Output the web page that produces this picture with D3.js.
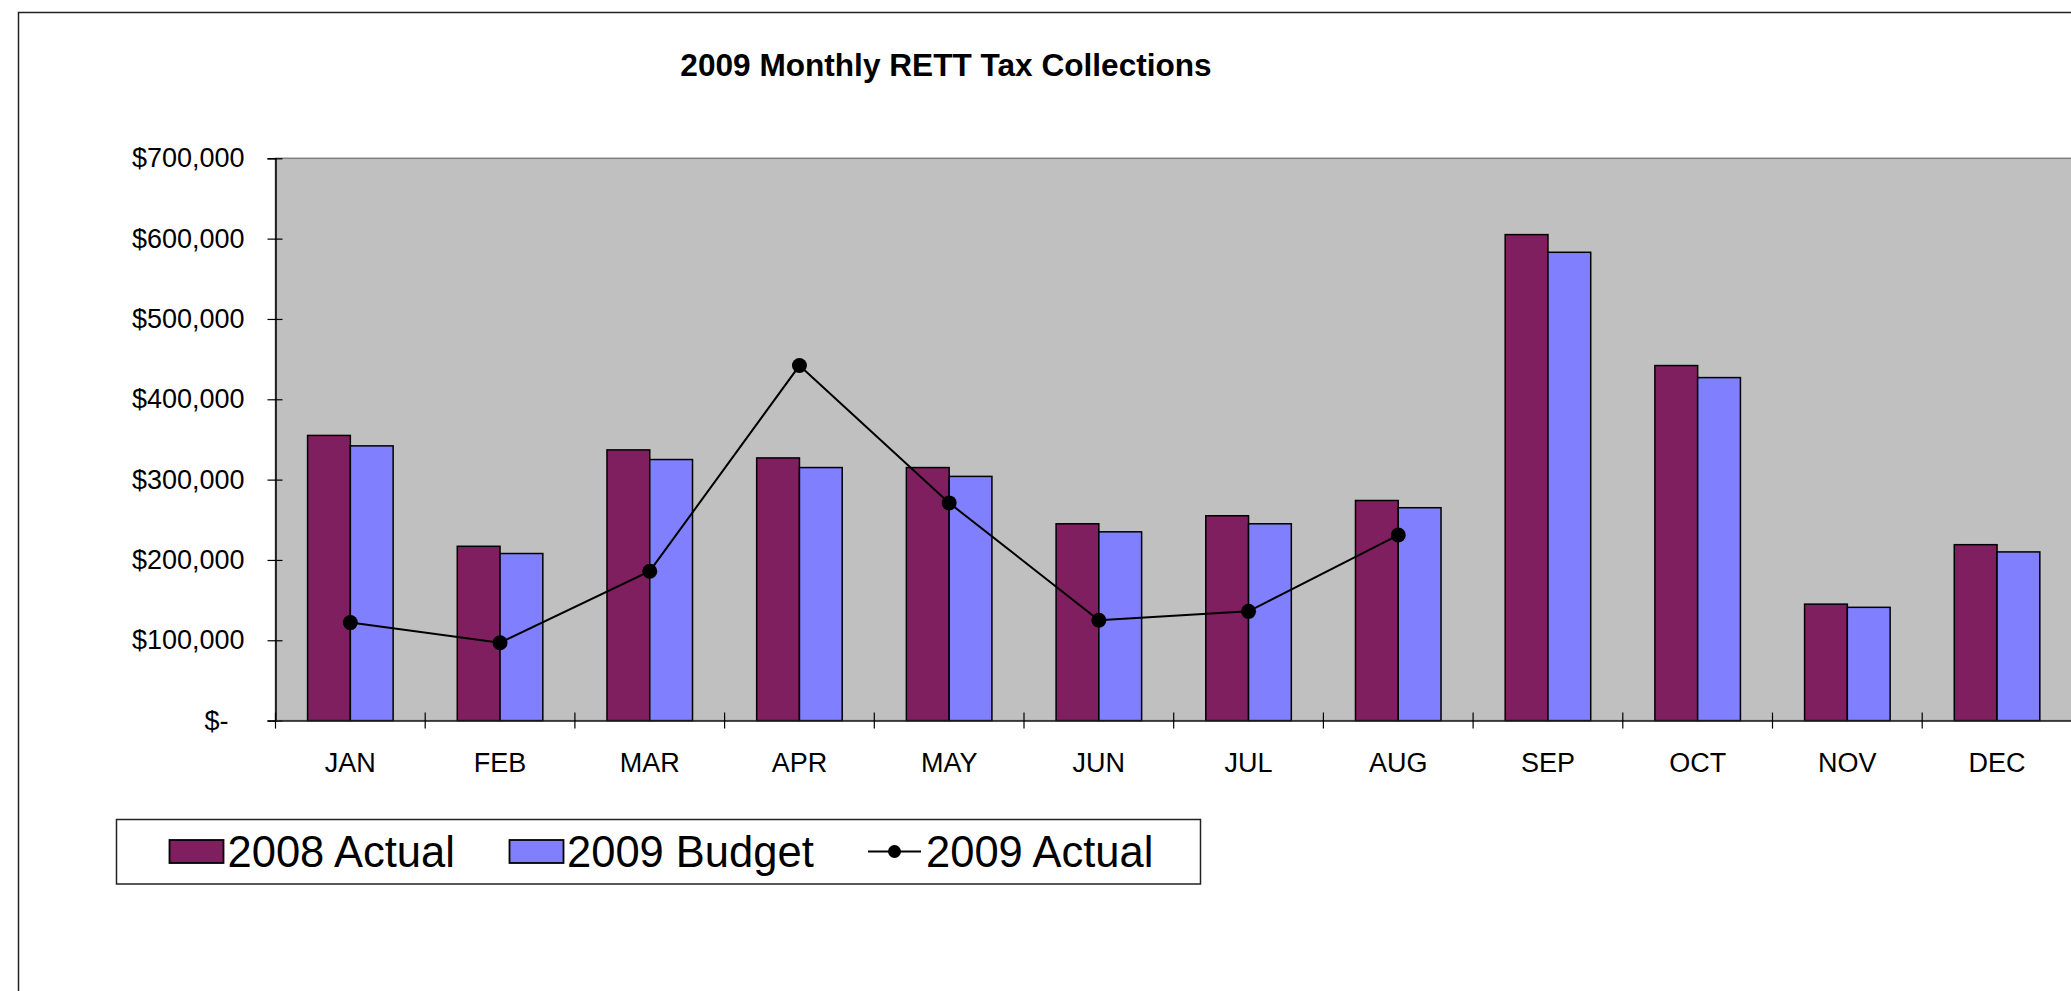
<!DOCTYPE html>
<html>
<head>
<meta charset="utf-8">
<script src="https://cdn.jsdelivr.net/npm/d3@7"></script>
<style>
  html, body { margin: 0; padding: 0; background: #ffffff; }
  svg { display: block; font-family: "Liberation Sans", Arial, sans-serif; }
</style>
</head>
<body>
<svg id="chart" width="2071" height="991"></svg>
<script>
// ---- data ----
const months = ["JAN", "FEB", "MAR", "APR", "MAY", "JUN", "JUL", "AUG", "SEP", "OCT", "NOV", "DEC"];
const actual2008 = [355000, 217000, 337000, 327000, 315000, 245000, 255000, 274000, 605000, 442000, 145000, 219000];
const budget2009 = [342000, 208000, 325000, 315000, 304000, 235000, 245000, 265000, 583000, 427000, 141000, 210000];
const actual2009 = [122000, 97000, 186000, 442000, 271000, 125000, 136000, 231000];
const yTickValues = [0, 100000, 200000, 300000, 400000, 500000, 600000, 700000];
const yTickLabels = ["$-", "$100,000", "$200,000", "$300,000", "$400,000", "$500,000", "$600,000", "$700,000"];
const seriesNames = ["2008 Actual", "2009 Budget", "2009 Actual"];
const titleText = "2009 Monthly RETT Tax Collections";

// ---- layout ----
const plot = { left: 275.5, top: 158.3, bottom: 720.6, band: 149.7 };
plot.right = plot.left + plot.band * months.length;

const colors = { a2008: "#801F5F", b2009: "#8080FF", plotBg: "#C0C0C0" };

const svg = d3.select("#chart");

// outer chart border (extends beyond the picture on the right/bottom)
svg.append("rect")
  .attr("x", 18.5).attr("y", 12.5)
  .attr("width", 2300).attr("height", 1200)
  .attr("fill", "#ffffff").attr("stroke", "#222").attr("stroke-width", 1.5);

// scales
const x = d3.scaleBand().domain(months).range([plot.left, plot.right]).paddingInner(0).paddingOuter(0);
const y = d3.scaleLinear().domain([0, 700000]).range([plot.bottom, plot.top]);
const gapRatio = 1.5;
const barW = x.bandwidth() / (2 + gapRatio);
const xs = d3.scaleBand().domain(["a", "b"]).range([0, 2 * barW]);

// plot area
svg.append("rect")
  .attr("x", plot.left).attr("y", plot.top)
  .attr("width", plot.right - plot.left).attr("height", plot.bottom - plot.top)
  .attr("fill", colors.plotBg).attr("stroke", "#808080").attr("stroke-width", 1.5);

// title
svg.append("text")
  .attr("x", 946).attr("y", 75.7)
  .attr("text-anchor", "middle")
  .attr("font-weight", "bold").attr("font-size", 31.6)
  .text(titleText);

// bars
const groups = svg.append("g").selectAll("g")
  .data(months).join("g")
  .attr("transform", d => `translate(${x(d) + (x.bandwidth() - 2 * barW) / 2},0)`);

groups.append("rect")
  .attr("x", xs("a")).attr("width", xs.bandwidth())
  .attr("y", (d, i) => y(actual2008[i]))
  .attr("height", (d, i) => y(0) - y(actual2008[i]))
  .attr("fill", colors.a2008).attr("stroke", "#000").attr("stroke-width", 1.5);

groups.append("rect")
  .attr("x", xs("b")).attr("width", xs.bandwidth())
  .attr("y", (d, i) => y(budget2009[i]))
  .attr("height", (d, i) => y(0) - y(budget2009[i]))
  .attr("fill", colors.b2009).attr("stroke", "#000").attr("stroke-width", 1.5);

// y axis
const yAxis = d3.axisLeft(y)
  .tickValues(yTickValues)
  .tickFormat((d, i) => yTickLabels[i])
  .tickSize(8).tickPadding(23);
const gy = svg.append("g").attr("transform", `translate(${plot.left},0)`).call(yAxis);
gy.select(".domain").attr("stroke", "#000").attr("stroke-width", 1.5);
gy.selectAll(".tick line").attr("x1", 7).attr("stroke", "#000").attr("stroke-width", 1.2);
gy.selectAll(".tick text")
  .attr("font-size", 27).attr("fill", "#000")
  .attr("font-family", "Liberation Sans, Arial, sans-serif")
  .attr("dx", (d, i) => i === 0 ? -16 : 0);

// x axis (labels centred, ticks between categories)
const xAxis = d3.axisBottom(x).tickSize(0).tickPadding(32);
const gx = svg.append("g").attr("transform", `translate(0,${plot.bottom})`).call(xAxis);
gx.select(".domain").attr("stroke", "#222").attr("stroke-width", 1.5);
gx.selectAll(".tick text")
  .attr("font-size", 27).attr("fill", "#000")
  .attr("font-family", "Liberation Sans, Arial, sans-serif");
svg.append("g").selectAll("line")
  .data(months.concat(["__end"]))
  .join("line")
  .attr("x1", (d, i) => i < months.length ? x(d) : plot.right)
  .attr("x2", (d, i) => i < months.length ? x(d) : plot.right)
  .attr("y1", plot.bottom - 8).attr("y2", plot.bottom + 8)
  .attr("stroke", "#000").attr("stroke-width", 1.2);

// 2009 actual line
const linePts = actual2009.map((v, i) => [x(months[i]) + x.bandwidth() / 2, y(v)]);
svg.append("path")
  .attr("d", d3.line()(linePts))
  .attr("fill", "none").attr("stroke", "#000").attr("stroke-width", 2);
svg.append("g").selectAll("circle")
  .data(linePts).join("circle")
  .attr("cx", d => d[0]).attr("cy", d => d[1]).attr("r", 7.5)
  .attr("fill", "#000");

// legend
const lg = svg.append("g");
lg.append("rect")
  .attr("x", 116.5).attr("y", 819.5).attr("width", 1084).attr("height", 64.5)
  .attr("fill", "#fff").attr("stroke", "#222").attr("stroke-width", 1.5);
const legendItems = [
  { name: seriesNames[0], kind: "bar", color: colors.a2008, sx: 169.5, tx: 227.5 },
  { name: seriesNames[1], kind: "bar", color: colors.b2009, sx: 509.5, tx: 567 },
  { name: seriesNames[2], kind: "line", color: "#000", sx: 868, tx: 926 }
];
const legCy = 851.5;
legendItems.forEach(it => {
  if (it.kind === "bar") {
    lg.append("rect").attr("x", it.sx).attr("y", legCy - 11.5).attr("width", 54).attr("height", 23)
      .attr("fill", it.color).attr("stroke", "#000").attr("stroke-width", 1.8);
  } else {
    lg.append("line").attr("x1", it.sx).attr("x2", it.sx + 53).attr("y1", legCy).attr("y2", legCy)
      .attr("stroke", "#000").attr("stroke-width", 2);
    lg.append("circle").attr("cx", it.sx + 26.5).attr("cy", legCy).attr("r", 6.5).attr("fill", "#000");
  }
  lg.append("text")
    .attr("x", it.tx).attr("y", legCy + 15.5)
    .attr("font-size", 43.5).attr("fill", "#000")
    .text(it.name);
});
</script>
</body>
</html>
